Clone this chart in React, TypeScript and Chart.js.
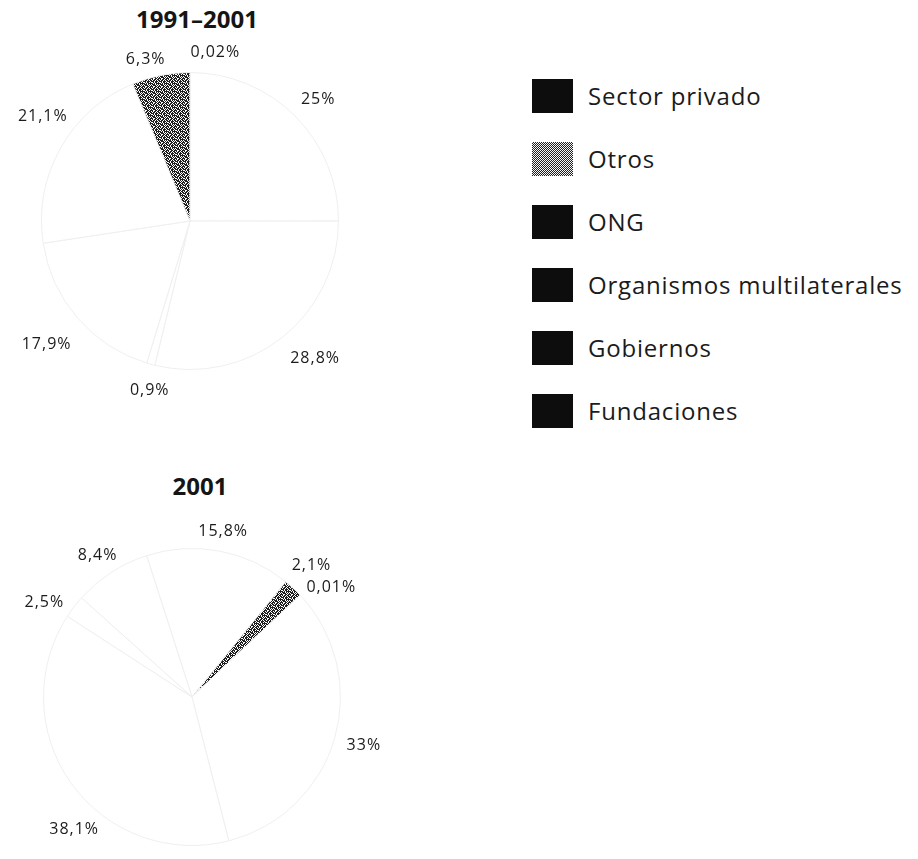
import React, { useEffect, useRef } from "react";
import { Chart, registerables } from "chart.js";

Chart.register(...registerables);

// Shares of funding by source (percent), listed clockwise from 12 o'clock.
const periodTitle = "1991–2001";
const periodShares = [0.02, 25, 28.8, 0.9, 17.9, 21.1, 6.3];
const periodOtrosIndex = 6;

const yearTitle = "2001";
const yearShares = [15.8, 2.1, 0.01, 33, 38.1, 2.5, 8.4];
const yearOtrosIndex = 1;

const legendNames = [
  "Sector privado",
  "Otros",
  "ONG",
  "Organismos multilaterales",
  "Gobiernos",
  "Fundaciones",
];

// Label placement tweaks per slice: [angle shift in degrees (clockwise), gap beyond the rim in px]
const periodLabelShift = [[8.5, 22], [1.5, 28], [-4.3, 37], [-2, 26], [0, 41], [6, 32], [-4, 19]];
const yearLabelShift = [[0, 20], [-0.6, 29], [5, 29], [-0.5, 30], [-12.7, 29], [-4.7, 27], [-0.7, 22]];

const LABEL_FONT = '16px "Open Sans", sans-serif';
const TEXT_COLOR = "#1b1b1b";

const fmtPct = (v: number) => String(v).replace(".", ",") + "%";

// Dithered grey used for the "Otros" slices
function ditherPattern(ctx: CanvasRenderingContext2D): CanvasPattern | string {
  const c = document.createElement("canvas");
  c.width = 8;
  c.height = 8;
  const g = c.getContext("2d");
  if (!g) return "#777";
  g.fillStyle = "#ffffff";
  g.fillRect(0, 0, 8, 8);
  g.fillStyle = "#1e1e1e";
  const rows = [
    "10110110",
    "01101011",
    "11011101",
    "01011010",
    "10101111",
    "11101010",
    "01110101",
    "10011011",
  ];
  rows.forEach((row, y) =>
    row.split("").forEach((b, x) => {
      if (b === "1") g.fillRect(x, y, 1, 1);
    })
  );
  return ctx.createPattern(c, "repeat") || "#777";
}

const sliceLabelPlugin = {
  id: "sliceLabels",
  afterDatasetsDraw(chart: any, _args: any, opts: any) {
    const ctx = chart.ctx as CanvasRenderingContext2D;
    const meta = chart.getDatasetMeta(0);
    const labels: string[] = chart.data.labels;
    ctx.save();
    ctx.font = LABEL_FONT;
    (ctx as any).letterSpacing = "1px";
    ctx.fillStyle = TEXT_COLOR;
    ctx.textAlign = "center";
    ctx.textBaseline = "middle";
    meta.data.forEach((arc: any, i: number) => {
      const p = arc.getProps(["x", "y", "startAngle", "endAngle", "outerRadius"], true);
      const shift = (opts.shift && opts.shift[i]) || [0, 28];
      const mid = (p.startAngle + p.endAngle) / 2 + (shift[0] * Math.PI) / 180;
      const r = p.outerRadius + shift[1];
      ctx.fillText(labels[i], p.x + r * Math.cos(mid), p.y + r * Math.sin(mid));
    });
    ctx.restore();
  },
};

type PieProps = {
  values: number[];
  otrosIndex: number;
  rotation: number;
  shift: number[][];
  left: number;
  top: number;
};

function SharePie({ values, otrosIndex, rotation, shift, left, top }: PieProps) {
  const ref = useRef<HTMLCanvasElement | null>(null);
  useEffect(() => {
    const canvas = ref.current;
    if (!canvas) return;
    const ctx = canvas.getContext("2d");
    if (!ctx) return;
    const grey = ditherPattern(ctx);
    const chart = new Chart(canvas, {
      type: "pie",
      data: {
        labels: values.map(fmtPct),
        datasets: [
          {
            data: values,
            backgroundColor: values.map((_, i) => (i === otrosIndex ? grey : "#ffffff")) as any,
            borderColor: "#efefef",
            borderWidth: 1,
          },
        ],
      },
      options: {
        responsive: false,
        animation: false,
        rotation,
        layout: { padding: 41 },
        plugins: {
          legend: { display: false },
          tooltip: { enabled: false },
          sliceLabels: { shift },
        } as any,
      },
      plugins: [sliceLabelPlugin],
    });
    return () => chart.destroy();
  }, [values, otrosIndex, rotation, shift]);
  return (
    <canvas
      ref={ref}
      width={380}
      height={380}
      style={{ position: "absolute", left, top, width: 380, height: 380 }}
    />
  );
}

const titleStyle: React.CSSProperties = {
  position: "absolute",
  width: 200,
  textAlign: "center",
  font: 'bold 24px "Open Sans", sans-serif',
  color: "#151515",
  lineHeight: "28px",
  margin: 0,
};

export default function App() {
  return (
    <div
      style={{
        position: "absolute",
        left: 0,
        top: 0,
        width: 918,
        height: 859,
        background: "#ffffff",
        overflow: "hidden",
      }}
    >
      <div style={{ ...titleStyle, left: 97, top: 5 }}>{periodTitle}</div>
      <SharePie
        values={periodShares}
        otrosIndex={periodOtrosIndex}
        rotation={0}
        shift={periodLabelShift}
        left={0}
        top={31}
      />
      <div style={{ ...titleStyle, left: 100, top: 472 }}>{yearTitle}</div>
      <SharePie
        values={yearShares}
        otrosIndex={yearOtrosIndex}
        rotation={-17.8}
        shift={yearLabelShift}
        left={2}
        top={507}
      />
      <div style={{ position: "absolute", left: 532, top: 64 }}>
        {legendNames.map((name) => (
          <div key={name} style={{ display: "flex", alignItems: "center", height: 63 }}>
            <span
              style={{
                display: "inline-block",
                width: 41,
                height: 34,
                flex: "none",
                background:
                  name === "Otros"
                    ? "repeating-conic-gradient(#222 0 25%, #f4f4f4 0 50%) 0 0 / 2px 2px"
                    : "#0d0d0d",
              }}
            />
            <span
              style={{
                marginLeft: 15,
                font: '24px "Open Sans", sans-serif',
                letterSpacing: "0.8px",
                color: TEXT_COLOR,
                whiteSpace: "nowrap",
              }}
            >
              {name}
            </span>
          </div>
        ))}
      </div>
    </div>
  );
}
